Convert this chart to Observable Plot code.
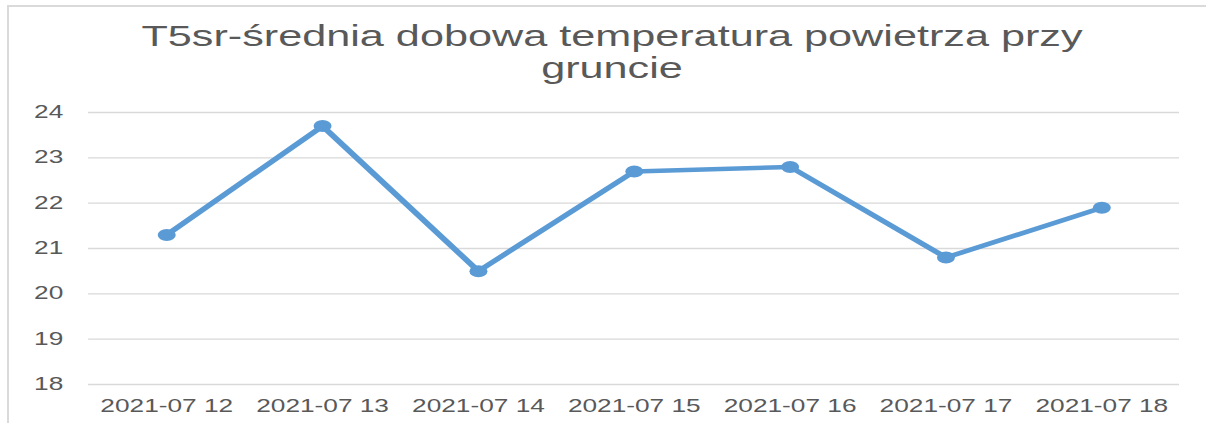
<!DOCTYPE html>
<html>
<head>
<meta charset="utf-8">
<script src="https://cdn.jsdelivr.net/npm/d3@7"></script>
<script src="https://cdn.jsdelivr.net/npm/@observablehq/plot@0.6"></script>
<style>
  html, body { margin: 0; padding: 0; background: #fff; }
  #outer { position: relative; width: 1206px; height: 423px; overflow: hidden; background: #fff; }
  #frame { position: absolute; left: 7px; top: 5px; width: 1220px; height: 440px; border: 2px solid #dadada; box-sizing: border-box; }
  #inner { position: absolute; left: 0; top: 0; width: 804px; height: 423px; transform: scaleX(1.5); transform-origin: 0 0; }
  #title { position: absolute; left: 0; top: 20px; width: 816px; text-align: center;
           font-family: "Liberation Sans", Arial, sans-serif; font-size: 28.8px; line-height: 32px; color: #595959; }
  #chart { position: absolute; left: 0; top: 0; }
</style>
</head>
<body>
<div id="outer">
  <div id="frame"></div>
  <div id="inner">
    <div id="chart"></div>
    <div id="title">T5sr-średnia dobowa temperatura powietrza przy<br>gruncie</div>
  </div>
</div>
<script>
const dates = ["2021-07 12", "2021-07 13", "2021-07 14", "2021-07 15", "2021-07 16", "2021-07 17", "2021-07 18"];
const temps = [21.3, 23.7, 20.5, 22.7, 22.8, 20.8, 21.9];
const yTicks = [18, 19, 20, 21, 22, 23, 24];

const data = dates.map((d, i) => ({date: d, temp: temps[i]}));

const chart = Plot.plot({
  width: 804,
  height: 423,
  marginLeft: 58.7,
  marginRight: 18,
  marginTop: 112,
  marginBottom: 39,
  style: {fontFamily: "'Liberation Sans', Arial, sans-serif", fontSize: "17.5px", color: "#595959", background: "transparent", overflow: "visible"},
  x: {type: "point", domain: dates, padding: 0.5, round: false, label: null},
  y: {domain: [18, 24], label: null},
  marks: [
    Plot.gridY(yTicks, {stroke: "#d9d9d9", strokeOpacity: 1, strokeWidth: 1.3}),
    Plot.axisY(yTicks, {tickSize: 0, tickPadding: 17, label: null, fill: "#595959"}),
    Plot.axisX(dates, {tickSize: 0, tickPadding: 15, label: null, fill: "#595959"}),
    Plot.line(data, {x: "date", y: "temp", stroke: "#5B9BD5", strokeWidth: 4.5, strokeLinejoin: "round", strokeLinecap: "round"}),
    Plot.dot(data, {x: "date", y: "temp", r: 6, fill: "#5B9BD5", stroke: "none"})
  ]
});
document.getElementById("chart").appendChild(chart);
</script>
</body>
</html>
